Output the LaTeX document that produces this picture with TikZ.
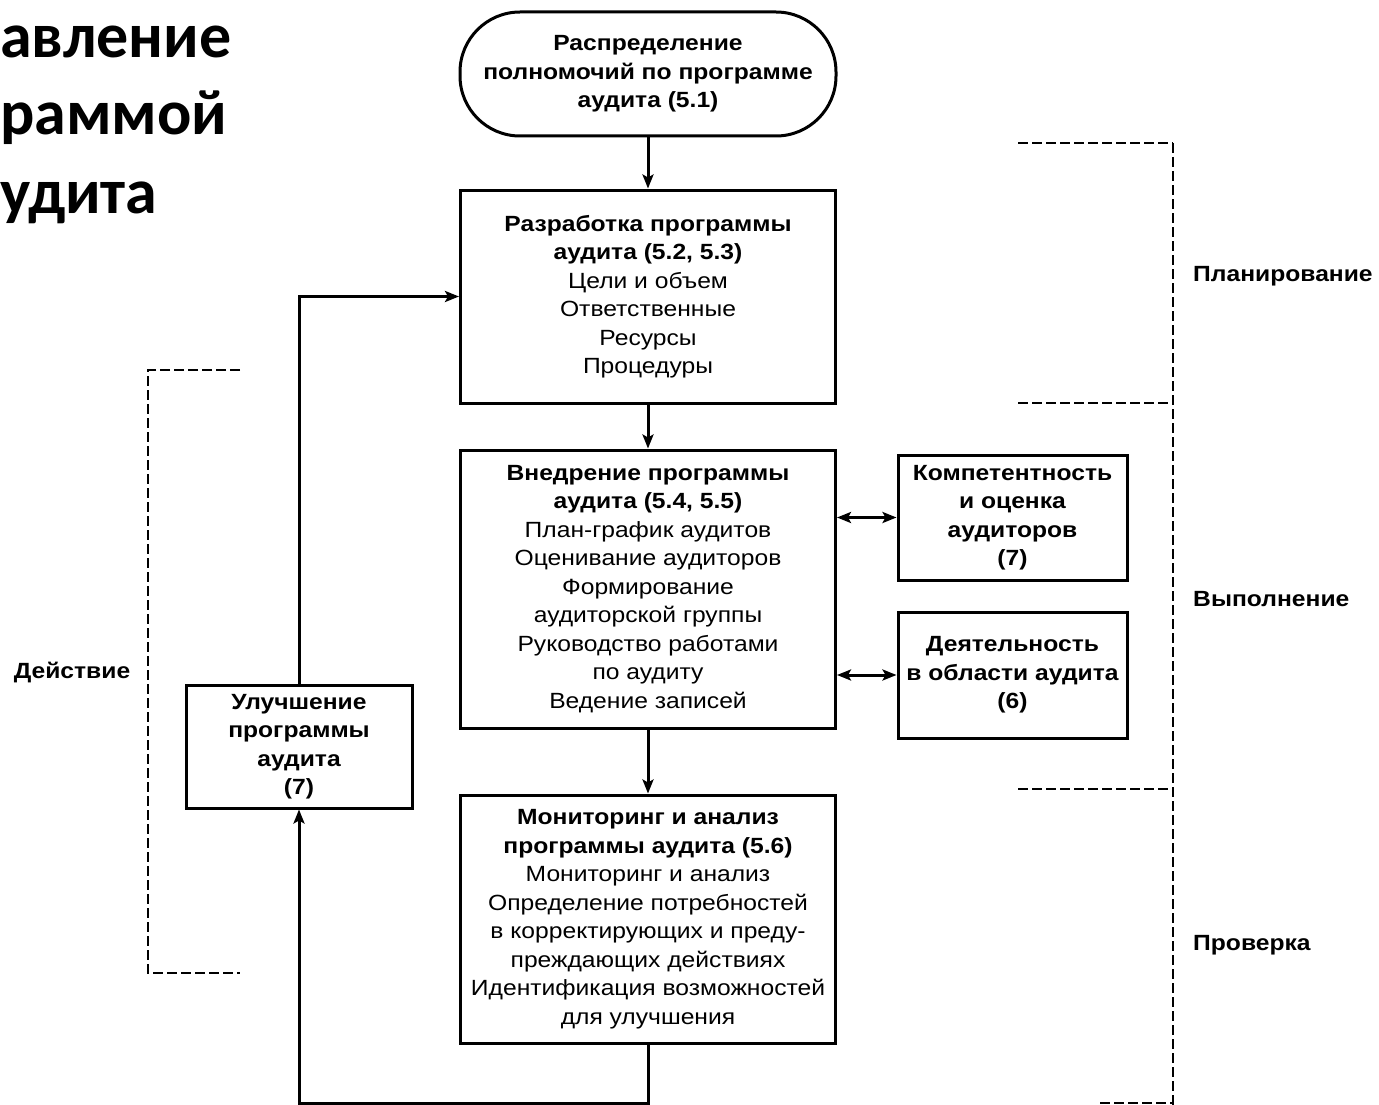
\documentclass[tikz,border=0pt]{standalone}
\usepackage{fontspec}
\setmainfont{Liberation Sans}
\newfontfamily\diagfont[FakeStretch=1.12]{Liberation Sans}
\newfontfamily\titlefont{Carlito}
\usetikzlibrary{arrows.meta}
\begin{document}
\begin{tikzpicture}[x=1pt,y=-1pt,
  txt/.style={font={\diagfont\fontsize{22}{28.5}\selectfont}},
  box/.style={txt,draw,line width=3pt,align=center,inner sep=0pt},
  stad/.style={box,rounded corners=60pt},
  lbl/.style={txt,font={\diagfont\bfseries\fontsize{22}{28.5}\selectfont},inner sep=0pt},
  ttl/.style={font={\titlefont\bfseries\fontsize{64}{77}\selectfont},inner sep=0pt,anchor=base west},
  arr/.style={line width=3pt,-{Stealth[length=14pt,width=11pt,inset=3pt]}},
  darr/.style={line width=3pt,{Stealth[length=14pt,width=11pt,inset=3pt]}-{Stealth[length=14pt,width=11pt,inset=3pt]}},
  ln/.style={line width=3pt},
  dsh/.style={line width=1.6pt,dash pattern=on 10pt off 4pt}]
\useasboundingbox[fill=white] (0,0) rectangle (1379,1105);
\clip (0,0) rectangle (1379,1105);

% title (as printed, cut at the left edge)
\node[ttl] (t1) at (0,58) {авление};
\node[ttl] (t2) at (0,135) {раммой};
\node[ttl] (t3) at (0,213) {удита};

% main boxes
\node[stad,minimum width=376pt,minimum height=124pt] (stad) at (648,74)
  {\bfseries Распределение\\\bfseries полномочий по программе\\\bfseries аудита (5.1)};
\node[box,minimum width=375pt,minimum height=213pt] (dev) at (648,296.5)
  {\bfseries Разработка программы\\\bfseries аудита (5.2, 5.3)\\Цели и объем\\Ответственные\\Ресурсы\\Процедуры};
\node[box,minimum width=375pt,minimum height=278pt] (impl) at (648,589)
  {\bfseries Внедрение программы\\\bfseries аудита (5.4, 5.5)\\План-график аудитов\\Оценивание аудиторов\\Формирование\\аудиторской группы\\Руководство работами\\по аудиту\\Ведение записей};
\node[box,minimum width=375pt,minimum height=248pt] (mon) at (648,919)
  {\bfseries Мониторинг и анализ\\\bfseries программы аудита (5.6)\\Мониторинг и анализ\\Определение потребностей\\в корректирующих и преду-\\преждающих действиях\\Идентификация возможностей\\для улучшения};
\node[box,minimum width=229pt,minimum height=125pt] (comp) at (1012.5,517.5)
  {\bfseries Компетентность\\\bfseries и оценка\\\bfseries аудиторов\\\bfseries (7)};
\node[box,minimum width=229pt,minimum height=126pt] (act) at (1012.5,675)
  {\bfseries Деятельность\\\bfseries в области аудита\\\bfseries (6)};
\node[box,minimum width=226pt,minimum height=123pt] (imp) at (299,746.5)
  {\bfseries Улучшение\\\bfseries программы\\\bfseries аудита\\\bfseries (7)};

% connectors
\draw[arr] (stad.south) -- (dev.north);
\draw[arr] (dev.south) -- (impl.north);
\draw[arr] (impl.south) -- (mon.north);
\draw[darr] (impl.east |- comp.west) -- (comp.west);
\draw[darr] (impl.east |- act.west) -- (act.west);
\draw[arr] (imp.north) |- (dev.west);
\coordinate (fb) at (0,1103);
\draw[arr] (mon.south) |- (fb -| imp.south) -- (imp.south);

% phase brackets
\draw[dsh] (1173,143) -- (1173,1105);
\draw[dsh] (1018,143) -- (1173,143);
\draw[dsh] (1018,403) -- (1173,403);
\draw[dsh] (1018,789) -- (1173,789);
\draw[dsh] (1100,1103) -- (1173,1103);
\draw[dsh] (240,370) -- (148,370) -- (148,973) -- (240,973);

\node[lbl,anchor=west] (plan) at (1193,276) {Планирование};
\node[lbl,anchor=west] (exec) at (1193,599) {Выполнение};
\node[lbl,anchor=west] (check) at (1193,945) {Проверка};
\node[lbl] (actl) at (72,673) {Действие};
\end{tikzpicture}
\end{document}
